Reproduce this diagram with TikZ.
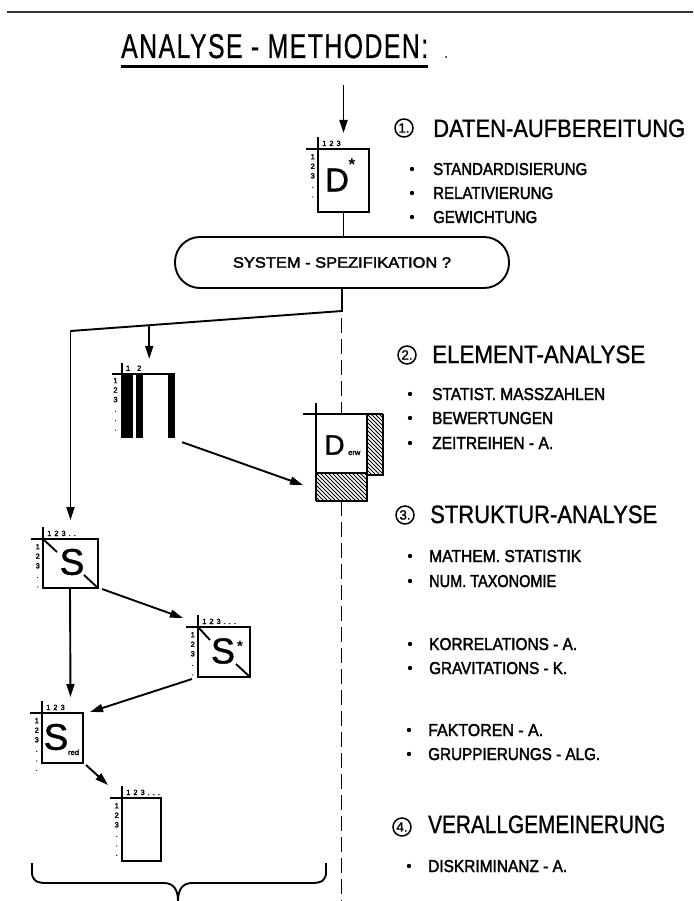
\documentclass[tikz,border=0pt]{standalone}
\usepackage{fontspec}
\setmainfont{Liberation Sans}
\newfontfamily\headfont{Liberation Sans}[FakeBold=1.2]
\newfontfamily\itemfont{Liberation Sans}[FakeBold=2.2]
\newfontfamily\titlefont{Liberation Sans}[FakeBold=0.8,LetterSpace=6]
\usepackage{graphicx}
\usetikzlibrary{arrows.meta,calc}

% text squeezed to a given width and cap height (in pt)
\newcommand\fitbox[3]{\resizebox{#1pt}{#2pt}{#3}}
% gap between index labels
\newcommand\ig{\hspace{3pt}}
% header of a data matrix: column rule, row rule and index labels
\newcommand\mxhead[3]{%
  \draw[frame] ([xshift=-12pt]#1.north west) -- (#1.north east);
  \draw[frame] (#1.north west) -- ++(0,-12);
  \node[lab,anchor=base west] at ([xshift=4pt,yshift=3pt]#1.north west) {#2};
  \node[lab,anchor=north east,align=center] at ([xshift=-3pt,yshift=-5pt]#1.north west) {#3};
}
% hatched strip between two corners
\newcommand\hatch[4]{%
  \begin{scope}
    \clip (#1,#2) rectangle (#3,#4);
    \foreach \k in {-80,-76,...,80}
      \draw[line width=1pt] ({#1+\k},#2) -- ++(90,90);
  \end{scope}
}

\begin{document}
\begin{tikzpicture}[x=1pt,y=-1pt,
  frame/.style={line width=1.9pt},
  arr/.style={line width=1.9pt,-{Triangle[length=13pt,width=8pt]}},
  dashline/.style={line width=1.9pt,dash pattern=on 15pt off 6pt},
  lab/.style={inner sep=0pt,font=\itemfont\fontsize{7.5}{9.5}\selectfont},
  mx/.style={draw,line width=1.9pt,inner sep=0pt,outer sep=0pt},
  txt/.style={anchor=base west,inner sep=0pt},
  letter/.style={inner sep=0pt,font=\headfont\fontsize{37}{37}\selectfont},
  num/.style={circle,draw,line width=1.5pt,minimum size=18pt,inner sep=0pt,
              font=\headfont\fontsize{13.5}{13.5}\selectfont},
]
\useasboundingbox (0,0) rectangle (693,901);

% page rule and title
\draw[line width=1.2pt,black!80] (7,12) -- (693,12);
\node[txt] (title) at (121,58) {\titlefont\fitbox{307}{24}{ANALYSE - METHODEN:}};
\draw[line width=2.8pt] ([yshift=-8pt]title.south west) -- ([yshift=-8pt]title.south east);
\fill (446,57) circle (1pt);

% input data matrix D*
\coordinate (top) at (343.5,85);
\node[mx,minimum width=51pt,minimum height=63pt] (Dstar) at (343.5,180.5) {};
\mxhead{Dstar}{1\ig 2\ig 3}{1\\2\\3\\.\\.}
\node[inner sep=0pt,font=\headfont\fontsize{33}{33}\selectfont] (Dl) at (337,180) {D};
\node[inner sep=0pt,font=\fontsize{17}{17}\selectfont\bfseries] (Dst) at (352,165) {*};
\draw[arr] (top) -- ([yshift=16pt]Dstar.north);

% decision
\node[draw,line width=1.9pt,rounded corners=25pt,minimum width=334pt,minimum height=51pt,
      inner sep=0pt] (pill) at (342,262.5) {\itemfont\fitbox{218}{10.5}{SYSTEM - SPEZIFIKATION ?}};
\draw[frame] (Dstar.south) -- (Dstar.south |- pill.north);

\coordinate (c1) at (342,311);
\coordinate (c2) at (70.5,331);
\draw[frame] (pill.south) -- (c1) -- (c2);
\coordinate (b) at ($(c1)!0.71!(c2)$);

% element analysis: column bars
\node[minimum width=54pt,minimum height=64pt,inner sep=0pt] (elem) at (148,406) {};
\draw[frame] ([xshift=-9pt]elem.north west) -- (elem.north east);
\draw[frame] ([xshift=1pt]elem.north west) -- ++(0,-11);
\fill ([xshift=0pt]elem.north west) rectangle ([xshift=12pt]elem.south west);
\fill ([xshift=15pt]elem.north west) rectangle ([xshift=22pt]elem.south west);
\fill ([xshift=-7pt]elem.north east) rectangle (elem.south east);
\node[lab,anchor=base west] at ([xshift=5pt,yshift=3pt]elem.north west) {1\hspace{7pt}2};
\node[lab,anchor=north east,align=center] at ([xshift=-3pt,yshift=-4pt]elem.north west) {1\\2\\3\\.\\.\\.};
\draw[arr,shorten >=15pt] (b) -- (b |- elem.north);

% extended data matrix
\node[mx,minimum width=51pt,minimum height=59pt] (Derw) at (341.5,443.5) {};
\draw[frame] ([xshift=-13pt]Derw.north west) -- ([xshift=16pt]Derw.north east);
\draw[frame] (Derw.north west) -- ++(0,-11);
\draw[frame] (Derw.south west) -- ++(0,28);
\hatch{316}{473}{367}{501}
\hatch{367}{414}{383}{475}
\draw[line width=1.2pt] (316,501) -- (367,501) -- (367,475) -- (383,475) -- (383,414);
\node[inner sep=0pt,font=\headfont\fontsize{28}{28}\selectfont] (Del) at (334.5,445) {D};
\node[txt,font=\itemfont\fontsize{7.5}{7.5}\selectfont] (Dsub) at (348,455) {erw};
\draw[arr] ([xshift=7pt,yshift=-4pt]elem.south east) -- ([xshift=-13pt,yshift=-12pt]Derw.south west);

% separator
\coordinate (d0) at (341.5,318);
\coordinate (bot) at (341.5,901);
\draw[dashline] (d0) -- (Derw.north);
\draw[dashline] ([yshift=-28pt]Derw.south) -- (bot);

% similarity matrix S
\node[mx,minimum width=55pt,minimum height=49pt] (S) at (70.5,563.5) {};
\mxhead{S}{1\ig 2\ig 3\ig .\ig .}{1\\2\\3\\.\\.}
\draw[frame] (S.north west) -- ++(14,13);
\draw[frame] (S.south east) -- ++(-14,-13);
\node[letter] (Sl) at (72,562) {S};
\draw[arr] (c2) -- ([yshift=19pt]S.north);

% transformed matrix S*
\node[mx,minimum width=52pt,minimum height=50pt] (Sstar) at (224,652) {};
\mxhead{Sstar}{1\ig 2\ig 3\ig .\ig .\ig .}{1\\2\\3\\.\\.}
\draw[frame] (Sstar.north west) -- ++(12,13);
\draw[frame] (Sstar.south east) -- ++(-14,-13);
\node[letter,font=\headfont\fontsize{36}{36}\selectfont] (Ssl) at (223,651) {S};
\node[inner sep=0pt,font=\fontsize{15}{15}\selectfont\bfseries] (Sst) at (240,646) {*};

% reduced matrix
\node[mx,minimum width=41pt,minimum height=50pt] (Sred) at (62.5,738) {};
\mxhead{Sred}{1\ig 2\ig 3}{1\\2\\3\\.\\.\\.}
\node[letter] (Srl) at (56,737) {S};
\node[txt,font=\itemfont\fontsize{7.5}{7.5}\selectfont] (Srsub) at (68,755) {red};

% result matrix
\node[mx,minimum width=39pt,minimum height=63pt] (Res) at (141.5,829.5) {};
\mxhead{Res}{1\ig 2\ig 3\ig .\ig .\ig .}{1\\2\\3\\.\\.\\.}

% flow between the matrices
\draw[arr] ([xshift=4pt,yshift=-1pt]S.south east) -- ([xshift=-15pt,yshift=9pt]Sstar.north west);
\draw[arr] ([xshift=-0.5pt]S.south) -- ([xshift=8pt,yshift=16pt]Sred.north);
\draw[arr] ([xshift=-6pt,yshift=-2pt]Sstar.south west) -- ([xshift=7pt,yshift=1pt]Sred.north east);
\draw[arr] ([xshift=3pt,yshift=-2pt]Sred.south east) -- ([xshift=-14pt,yshift=13pt]Res.north west);

% brace under the methods
\draw[frame] (32,863) -- (32,872) .. controls (32,880) and (36,883) .. (46,883) -- (164,883)
  .. controls (173,883) and (178,889) .. (178,901);
\draw[frame] (178,901) .. controls (178,889) and (183,883) .. (192,883) -- (312,883)
  .. controls (322,883) and (326,880) .. (326,872) -- (326,863);

% 1: data preparation
\node[num] (n1) at (404,128) {1.};
\node[txt] (h1) at (433,137) {\headfont\fitbox{252}{17.5}{DATEN-AUFBEREITUNG}};
\fill (412,169) circle (2.2pt);
\node[txt] (a1) at (433,175) {\itemfont\fitbox{154}{12}{STANDARDISIERUNG}};
\fill (412,193) circle (2.2pt);
\node[txt] (a2) at (433,199) {\itemfont\fitbox{120}{12}{RELATIVIERUNG}};
\fill (412,217) circle (2.2pt);
\node[txt] (a3) at (433,223) {\itemfont\fitbox{104}{12}{GEWICHTUNG}};

% 2: element analysis
\node[num] (n2) at (407,355) {2.};
\node[txt] (h2) at (432,363) {\headfont\fitbox{213}{17.5}{ELEMENT-ANALYSE}};
\fill (410,394) circle (2.2pt);
\node[txt] (b1) at (432,400) {\itemfont\fitbox{173}{12}{STATIST. MASSZAHLEN}};
\fill (410,418) circle (2.2pt);
\node[txt] (b2) at (432,424) {\itemfont\fitbox{121}{12}{BEWERTUNGEN}};
\fill (410,443) circle (2.2pt);
\node[txt] (b3) at (432,449) {\itemfont\fitbox{121}{12}{ZEITREIHEN - A.}};

% 3: structure analysis
\node[num] (n3) at (405,515) {3.};
\node[txt] (h3) at (430,523) {\headfont\fitbox{227}{17.5}{STRUKTUR-ANALYSE}};
\fill (410,556) circle (2.2pt);
\node[txt] (c1t) at (429,562) {\itemfont\fitbox{152}{12}{MATHEM. STATISTIK}};
\fill (410,581) circle (2.2pt);
\node[txt] (c2t) at (429,587) {\itemfont\fitbox{127}{12}{NUM. TAXONOMIE}};
\fill (410,644) circle (2.2pt);
\node[txt] (c3t) at (429,650) {\itemfont\fitbox{148}{12}{KORRELATIONS - A.}};
\fill (410,668) circle (2.2pt);
\node[txt] (c4t) at (429,674) {\itemfont\fitbox{138}{12}{GRAVITATIONS - K.}};
\fill (409,730) circle (2.2pt);
\node[txt] (c5t) at (428,736) {\itemfont\fitbox{115}{12}{FAKTOREN - A.}};
\fill (409,754) circle (2.2pt);
\node[txt] (c6t) at (428,760) {\itemfont\fitbox{172}{12}{GRUPPIERUNGS - ALG.}};

% 4: generalisation
\node[num] (n4) at (402,827) {4.};
\node[txt] (h4) at (428,833) {\headfont\fitbox{237}{17.5}{VERALLGEMEINERUNG}};
\fill (409,866) circle (2.2pt);
\node[txt] (d1) at (428,872) {\itemfont\fitbox{139}{12}{DISKRIMINANZ - A.}};

\end{tikzpicture}
\end{document}
